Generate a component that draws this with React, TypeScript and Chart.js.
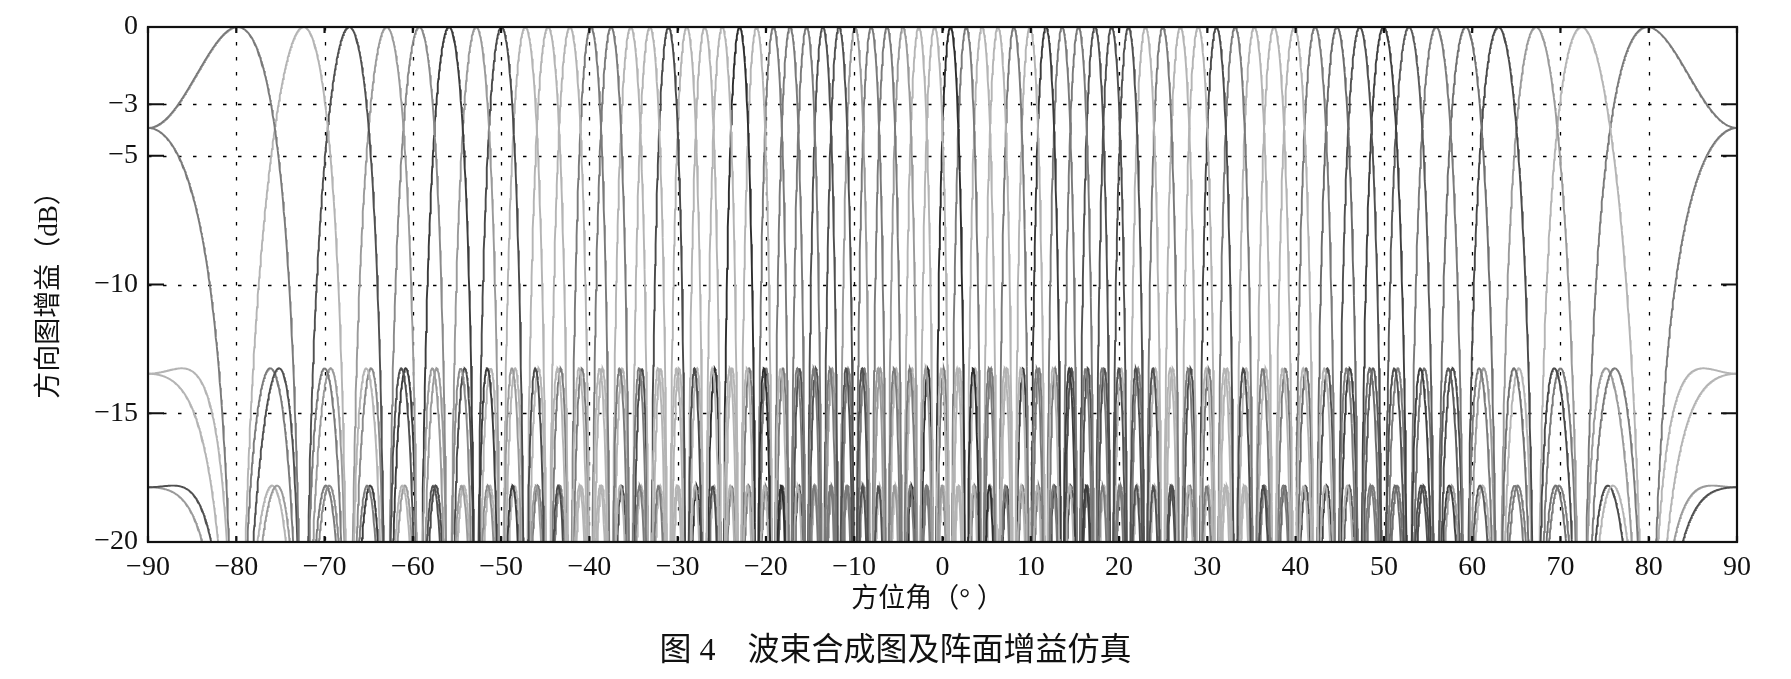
import React, { useEffect, useRef } from "react";
import { Chart, registerables } from "chart.js";

Chart.register(...registerables);

// Beam steering angles (deg)
const BEAM_ANGLES = [
  -79.86, -72.38, -67.21, -62.97, -59.27, -55.91, -52.83, -49.96, -47.26, -44.68,
  -42.21, -39.84, -37.55, -35.32, -33.15, -31.04, -28.97, -26.94, -24.95, -22.99,
  -21.06, -19.15, -17.27, -15.40, -13.55, -11.72, -9.90, -8.08, -6.28, -4.48,
  -2.69, -0.90, 0.90, 2.69, 4.48, 6.28, 8.08, 9.90, 11.72, 13.55,
  15.40, 17.27, 19.15, 21.06, 22.99, 24.95, 26.94, 28.97, 31.04, 33.15,
  35.32, 37.55, 39.84, 42.21, 44.68, 47.26, 49.96, 52.83, 55.91, 59.27,
  62.97, 67.21, 72.38, 79.86,
];

// Grey shade of each beam (left to right)
const BEAM_SHADES = [
  "#7a7a7a", "#b4b4b4", "#505050", "#9a9a9a", "#8a8a8a", "#3c3c3c", "#9a9a9a", "#4a4a4a", "#b4b4b4", "#b4b4b4",
  "#b4b4b4", "#7a7a7a", "#7a7a7a", "#b4b4b4", "#b4b4b4", "#4a4a4a", "#b4b4b4", "#b4b4b4", "#b4b4b4", "#2e2e2e",
  "#b4b4b4", "#7a7a7a", "#7a7a7a", "#7a7a7a", "#505050", "#505050", "#9a9a9a", "#7a7a7a", "#7a7a7a", "#9a9a9a",
  "#b4b4b4", "#b4b4b4", "#2e2e2e", "#7a7a7a", "#b4b4b4", "#b4b4b4", "#7a7a7a", "#b4b4b4", "#3c3c3c", "#7a7a7a",
  "#7a7a7a", "#505050", "#505050", "#505050", "#b4b4b4", "#7a7a7a", "#b4b4b4", "#b4b4b4", "#4a4a4a", "#7a7a7a",
  "#b4b4b4", "#b4b4b4", "#b4b4b4", "#7a7a7a", "#6a6a6a", "#505050", "#404040", "#5a5a5a", "#7a7a7a", "#707070",
  "#4a4a4a", "#9a9a9a", "#b4b4b4", "#7a7a7a",
];

const ELEMENT_COUNT = 64; // elements of the uniform array
const ELEMENT_SPACING = 0.5; // in wavelengths
const ANGLE_STEP = 0.05;

const X_MIN = -90;
const X_MAX = 90;
const X_TICKS = [-90, -80, -70, -60, -50, -40, -30, -20, -10, 0, 10, 20, 30, 40, 50, 60, 70, 80, 90];
const Y_MIN = -20;
const Y_MAX = 0;
const Y_TICKS = [0, -3, -5, -10, -15, -20];

const Y_TITLE = "方向图增益（dB）";
const X_TITLE = "方位角（° ）";
const CAPTION = "图 4\u3000波束合成图及阵面增益仿真";

function beamPattern(steerDeg: number) {
  const pts: { x: number; y: number }[] = [];
  const u0 = Math.sin((steerDeg * Math.PI) / 180);
  const n = Math.round((X_MAX - X_MIN) / ANGLE_STEP);
  for (let i = 0; i <= n; i++) {
    const th = X_MIN + i * ANGLE_STEP;
    const du = Math.sin((th * Math.PI) / 180) - u0;
    const a = Math.PI * ELEMENT_SPACING * du;
    const den = ELEMENT_COUNT * Math.sin(a);
    const af = Math.abs(den) < 1e-12 ? 1 : Math.abs(Math.sin(ELEMENT_COUNT * a) / den);
    let db = 20 * Math.log10(Math.max(af, 1e-3));
    if (db < -40) db = -40;
    pts.push({ x: th, y: db });
  }
  return pts;
}

const CHART_LEFT = 148;
const CHART_RIGHT = 1737;
const CHART_TOP = 27;
const CHART_BOTTOM = 542;
const W = 1791;
const H = 679;

const framePlugin = {
  id: "frame",
  beforeDatasetsDraw(chart: any) {
    const { ctx, chartArea: a, scales } = chart;
    const x = scales.x;
    const y = scales.y;
    ctx.save();
    ctx.strokeStyle = "#000";
    ctx.lineWidth = 1.3;
    ctx.setLineDash([3.5, 11.5]);
    for (const v of X_TICKS) {
      if (v <= X_MIN || v >= X_MAX) continue;
      const px = Math.round(x.getPixelForValue(v)) + 0.5;
      ctx.beginPath();
      ctx.moveTo(px, a.top);
      ctx.lineTo(px, a.bottom);
      ctx.stroke();
    }
    for (const v of Y_TICKS) {
      if (v <= Y_MIN || v >= Y_MAX) continue;
      const py = Math.round(y.getPixelForValue(v)) + 0.5;
      ctx.beginPath();
      ctx.moveTo(a.left, py);
      ctx.lineTo(a.right, py);
      ctx.stroke();
    }
    ctx.restore();
  },
  afterDatasetsDraw(chart: any) {
    const { ctx, chartArea: a, scales } = chart;
    const x = scales.x;
    const y = scales.y;
    ctx.save();
    ctx.strokeStyle = "#111";
    ctx.lineWidth = 2.2;
    ctx.setLineDash([]);
    ctx.strokeRect(a.left, a.top, a.right - a.left, a.bottom - a.top);
    for (const v of Y_TICKS) {
      const py = y.getPixelForValue(v);
      ctx.beginPath();
      ctx.moveTo(a.left, py);
      ctx.lineTo(a.left + 16, py);
      ctx.moveTo(a.right, py);
      ctx.lineTo(a.right - 16, py);
      ctx.stroke();
    }
    for (const v of X_TICKS) {
      const px = x.getPixelForValue(v);
      ctx.beginPath();
      ctx.moveTo(px, a.bottom);
      ctx.lineTo(px, a.bottom - 6);
      ctx.moveTo(px, a.top);
      ctx.lineTo(px, a.top + 6);
      ctx.stroke();
    }
    ctx.restore();
  },
  afterDraw(chart: any) {
    const { ctx, chartArea: a } = chart;
    ctx.save();
    ctx.fillStyle = "#111";
    ctx.textAlign = "center";
    ctx.textBaseline = "middle";
    ctx.font = '27px "Liberation Serif", "Noto Sans CJK SC"';
    ctx.translate(50, (a.top + a.bottom) / 2 + 4);
    ctx.rotate(-Math.PI / 2);
    ctx.fillText(Y_TITLE, 0, 0);
    ctx.restore();
    ctx.save();
    ctx.fillStyle = "#111";
    ctx.textAlign = "center";
    ctx.textBaseline = "middle";
    ctx.font = '27px "Liberation Serif", "Noto Sans CJK SC"';
    ctx.fillText(X_TITLE, (a.left + a.right) / 2 - 15, 600);
    ctx.font = '32px "Liberation Serif", "Noto Sans CJK SC"';
    ctx.fillText(CAPTION, W / 2, 652);
    ctx.restore();
  },
};

export default function App() {
  const ref = useRef<HTMLCanvasElement | null>(null);
  useEffect(() => {
    if (!ref.current) return;
    const datasets = BEAM_ANGLES.map((ang, i) => ({
      label: `beam ${i + 1}`,
      data: beamPattern(ang),
      borderColor: BEAM_SHADES[i % BEAM_SHADES.length],
      borderWidth: 1.9,
      pointRadius: 0,
      fill: false,
      tension: 0,
    }));
    const chart = new Chart(ref.current, {
      type: "line",
      data: { datasets },
      options: {
        animation: false,
        responsive: false,
        parsing: false,
        normalized: true,
        events: [],
        layout: { padding: { left: 0, right: W - CHART_RIGHT, top: CHART_TOP, bottom: 0 } },
        plugins: { legend: { display: false }, tooltip: { enabled: false }, title: { display: false } },
        scales: {
          x: {
            type: "linear",
            min: X_MIN,
            max: X_MAX,
            grid: { display: false, drawTicks: false },
            border: { display: false },
            afterBuildTicks: (s: any) => {
              s.ticks = X_TICKS.map((v) => ({ value: v }));
            },
            afterFit: (s: any) => {
              s.height = H - CHART_BOTTOM;
            },
            ticks: {
              autoSkip: false,
              maxRotation: 0,
              padding: 9,
              color: "#111",
              font: { family: "Liberation Serif", size: 28 },
              callback: (v: any) => String(v).replace("-", "\u2212"),
            },
          },
          y: {
            type: "linear",
            min: Y_MIN,
            max: Y_MAX,
            grid: { display: false, drawTicks: false },
            border: { display: false },
            afterBuildTicks: (s: any) => {
              s.ticks = Y_TICKS.map((v) => ({ value: v }));
            },
            afterFit: (s: any) => {
              s.width = CHART_LEFT;
            },
            ticks: {
              autoSkip: false,
              padding: 10,
              color: "#111",
              font: { family: "Liberation Serif", size: 28 },
              callback: (v: any) => String(v).replace("-", "\u2212"),
            },
          },
        },
      },
      plugins: [framePlugin],
    } as any);
    return () => chart.destroy();
  }, []);
  return (
    <div style={{ position: "absolute", left: 0, top: 0, width: W, height: H, background: "#fff" }}>
      <canvas ref={ref} width={W} height={H} style={{ width: W, height: H, display: "block" }} />
    </div>
  );
}
